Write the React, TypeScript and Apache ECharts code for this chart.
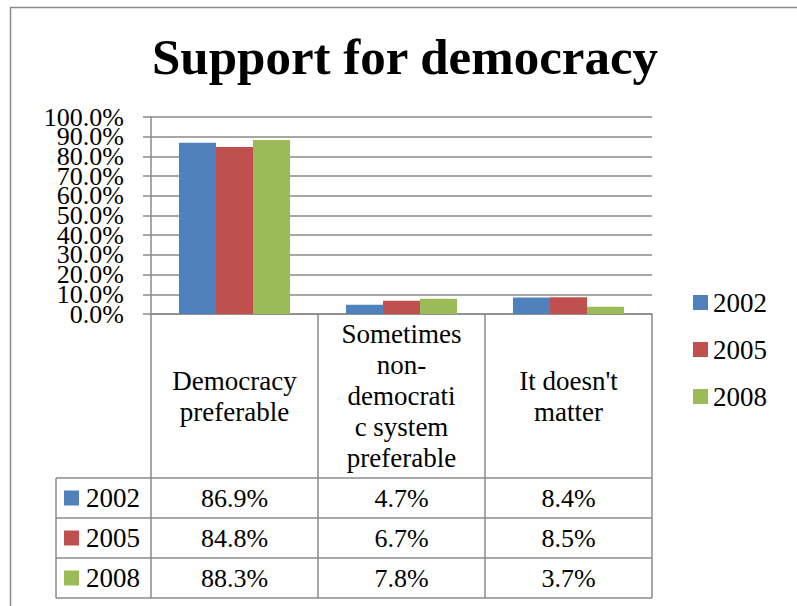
import React, { useEffect, useRef } from "react";
import * as echarts from "echarts";

const categories = [
  "Democracy preferable",
  "Sometimes non-democratic system preferable",
  "It doesn't matter",
];
const categoryLabelLines = [
  ["Democracy", "preferable"],
  ["Sometimes", "non-", "democrati", "c system", "preferable"],
  ["It doesn't", "matter"],
];
const years = ["2002", "2005", "2008"];
const values2002 = [86.9, 4.7, 8.4];
const values2005 = [84.8, 6.7, 8.5];
const values2008 = [88.3, 7.8, 3.7];
const seriesValues = [values2002, values2005, values2008];
const colors = ["#4F81BD", "#C0504D", "#9BBB59"];
const yMin = 0;
const yMax = 100;
const yInterval = 10;
const yTickValues = [0, 10, 20, 30, 40, 50, 60, 70, 80, 90, 100];
const title = "Support for democracy";

const FONT = "'Liberation Serif', 'Times New Roman', serif";
const GRID = "#8a8a8a";

export default function App() {
  const ref = useRef<HTMLDivElement>(null);
  useEffect(() => {
    if (!ref.current) return;
    const chart = echarts.init(ref.current, undefined, { renderer: "svg" });

    const gridLeft = 151;
    const gridTop = 117;
    const gridWidth = 501;
    const gridHeight = 197;
    const gridBottomY = gridTop + gridHeight;
    const colW = gridWidth / categories.length;
    const tableLeft = 56;
    const tableTop = 478;
    const rowH = 40;
    const tableBottom = tableTop + rowH * years.length;
    const gridRight = gridLeft + gridWidth;

    const graphics: any[] = [];
    graphics.push({
      type: "rect",
      shape: { x: 10.5, y: 7.5, width: 900, height: 700 },
      style: { fill: "none", stroke: "#8c8c8c", lineWidth: 1.5 },
      silent: true,
    });
    graphics.push({
      type: "text",
      x: 405,
      y: 57,
      style: {
        text: title,
        fontSize: 51,
        fontWeight: "bold",
        fontFamily: FONT,
        fill: "#000",
        align: "center",
        verticalAlign: "middle",
      },
    });
    for (let i = 0; i <= categories.length; i++) {
      const x = gridLeft + i * colW;
      graphics.push({
        type: "line",
        shape: { x1: x, y1: gridBottomY, x2: x, y2: tableBottom },
        style: { stroke: GRID, lineWidth: 1.5 },
      });
    }
    graphics.push({
      type: "line",
      shape: { x1: tableLeft, y1: tableTop, x2: tableLeft, y2: tableBottom },
      style: { stroke: GRID, lineWidth: 1.5 },
    });
    for (let r = 0; r <= years.length; r++) {
      const y = tableTop + r * rowH;
      graphics.push({
        type: "line",
        shape: { x1: tableLeft, y1: y, x2: gridRight, y2: y },
        style: { stroke: GRID, lineWidth: 1.5 },
      });
    }
    years.forEach((yr, r) => {
      const cy = tableTop + r * rowH + rowH / 2;
      graphics.push({
        type: "rect",
        shape: { x: 64, y: cy - 7.5, width: 15, height: 15 },
        style: { fill: colors[r] },
      });
      graphics.push({
        type: "text",
        x: 86,
        y: cy,
        style: {
          text: yr,
          fontSize: 27,
          fontFamily: FONT,
          fill: "#000",
          align: "left",
          verticalAlign: "middle",
        },
      });
      seriesValues[r].forEach((v, c) => {
        graphics.push({
          type: "text",
          x: gridLeft + (c + 0.5) * colW,
          y: cy,
          style: {
            text: v.toFixed(1) + "%",
            fontSize: 26,
            fontFamily: FONT,
            fill: "#000",
            align: "center",
            verticalAlign: "middle",
          },
        });
      });
    });

    chart.setOption({
      animation: false,
      textStyle: { fontFamily: FONT },
      grid: { left: gridLeft, top: gridTop, width: gridWidth, height: gridHeight, containLabel: false },
      legend: {
        orient: "vertical",
        left: 693,
        top: 289,
        padding: 0,
        icon: "rect",
        itemWidth: 15,
        itemHeight: 15,
        itemGap: 20,
        textStyle: { fontSize: 27, lineHeight: 27, fontFamily: FONT, color: "#000" },
        data: years,
      },
      xAxis: {
        type: "category",
        data: categories,
        axisLine: { show: true, lineStyle: { color: GRID, width: 1.5 } },
        axisTick: { show: false },
        axisLabel: {
          interval: 0,
          margin: 82,
          verticalAlign: "middle",
          fontSize: 27,
          lineHeight: 31,
          color: "#000",
          fontFamily: FONT,
          formatter: (_v: string, i: number) => categoryLabelLines[i].join("\n"),
        },
      },
      yAxis: {
        type: "value",
        min: yMin,
        max: yMax,
        interval: yInterval,
        axisLine: { show: true, lineStyle: { color: GRID, width: 1.5 } },
        axisTick: { show: true, length: 8, lineStyle: { color: GRID, width: 1.5 } },
        splitLine: { show: true, lineStyle: { color: GRID, width: 1.5 } },
        axisLabel: { show: false },
      },
      series: years.map((yr, i) => ({
        name: yr,
        type: "bar",
        data: seriesValues[i],
        itemStyle: { color: colors[i] },
        barGap: "0%",
        barCategoryGap: "33.5%",
      })),
      graphic: graphics,
    });

    // y-axis tick labels placed through the axis scale (they overlap, as in the reference)
    const yLabels = yTickValues.map((v) => {
      const py = chart.convertToPixel({ yAxisIndex: 0 }, v) as number;
      return {
        type: "text",
        x: gridLeft - 27,
        y: py,
        style: {
          text: v.toFixed(1) + "%",
          fontSize: 26,
          fontFamily: FONT,
          fill: "#000",
          align: "right",
          verticalAlign: "middle",
        },
      };
    });
    chart.setOption({ graphic: [...graphics, ...yLabels] });

    return () => chart.dispose();
  }, []);
  return (
    <div
      ref={ref}
      style={{ position: "absolute", left: 0, top: 0, width: 797, height: 606, background: "#fff" }}
    />
  );
}
